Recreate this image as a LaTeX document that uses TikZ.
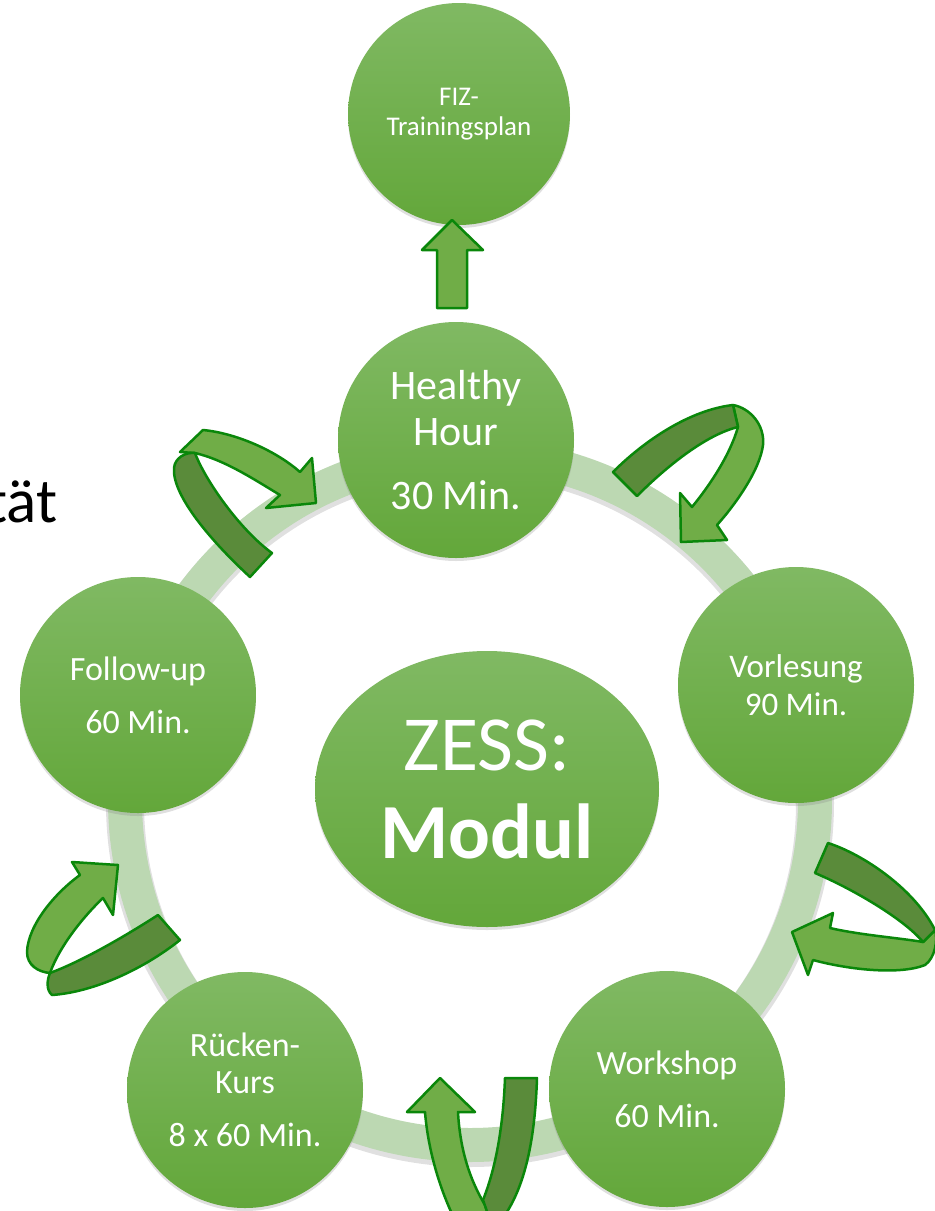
\documentclass[tikz,border=0pt]{standalone}
\usepackage{fontspec}
\setmainfont{Carlito}
\usepackage{tikz}
\usetikzlibrary{shapes.geometric}
\usetikzlibrary{shadows}
\definecolor{ringgreen}{HTML}{BCD8B2}
\definecolor{topgreen}{HTML}{80B963}
\definecolor{botgreen}{HTML}{63A73A}
\definecolor{arrowlight}{HTML}{70AD47}
\definecolor{arrowdark}{HTML}{5A8B3A}
\definecolor{arrowline}{HTML}{0A870A}
\tikzset{
 stage/.style={circle, minimum size=236pt, inner sep=0pt, text=white, align=center,
   top color=topgreen, bottom color=botgreen,
   drop shadow={opacity=0.25, shadow xshift=0pt, shadow yshift=-3pt}},
 turn light/.style={fill=arrowlight, draw=arrowline, line width=2.5pt, line join=round},
 turn dark/.style={fill=arrowdark, draw=arrowline, line width=2.5pt, line join=round},
 }

\begin{document}
\begin{tikzpicture}[x=1pt, y=-1pt]
        \useasboundingbox (0,0) rectangle (935,1211);

        % ring behind the stations
        \draw[black, opacity=0.12, line width=38pt] (470,803) circle[radius=345pt];
        \draw[ringgreen, line width=34pt] (470,800) circle[radius=345pt];

        \node[anchor=base east, font=\fontsize{63}{72}\selectfont] (word) at (61,522) {tät};

        % stations
        \node[stage, minimum size=222pt, font=\fontsize{27}{30}\selectfont] (fiz) at (459,114) {FIZ-\\Trainingsplan};
        \node[stage, font=\fontsize{42}{46}\selectfont] (hh) at (456,440) {Healthy\\Hour\\[18pt]30 Min.};
        \node[stage, font=\fontsize{33}{38}\selectfont] (vor) at (796,685) {Vorlesung\\90 Min.};
        \node[stage, font=\fontsize{34}{40}\selectfont] (work) at (667,1089) {Workshop\\[13pt]60 Min.};
        \node[stage, font=\fontsize{34}{37}\selectfont] (ruck) at (245,1090) {Rücken-\\Kurs\\[16pt]8 x 60 Min.};
        \node[stage, font=\fontsize{34}{40}\selectfont] (follow) at (138,695) {Follow-up\\[13pt]60 Min.};
        \node[stage, ellipse, minimum width=344pt, minimum height=276pt, font=\fontsize{78}{88}\selectfont] (zess) at (487,789) {ZESS:\\\textbf{Modul}};

        % arrow up to the training plan
        \draw[turn light] (437,308) -- (437,250) -- (422,250) -- (452,220) -- (483,250) -- (467,250) -- (467,308) -- cycle;

        % top left turn
        \draw[turn light] (203,430) .. controls (235,433) and (275,450) .. (300,472) -- (312,458) -- (316,503) -- (266,508) -- (280,495)
            .. controls (255,480) and (225,460) .. (195,453) -- (180,452) -- cycle;
        \draw[turn dark] (195,453) .. controls (205,480) and (240,530) .. (272,553) -- (250,577)
            .. controls (210,540) and (172,495) .. (174,468) .. controls (175,458) and (185,452) .. (195,453) -- cycle;

        % top right turn
        \draw[turn light] (733,405) .. controls (750,408) and (765,425) .. (763,445) .. controls (760,470) and (735,505) .. (717,525)
            -- (727,540) -- (681,542) -- (680,493) -- (692,507) .. controls (710,485) and (730,455) .. (738,427) -- cycle;
        \draw[turn dark] (613,472) .. controls (645,440) and (690,410) .. (733,405) -- (738,427)
            .. controls (705,435) and (665,468) .. (637,496) -- cycle;

        % right turn
        \draw[turn light] (923,942) .. controls (900,938) and (860,935) .. (830,928) -- (833,913) -- (792,932) -- (808,975) -- (813,960)
            .. controls (850,970) and (900,975) .. (925,965) .. controls (935,958) and (938,940) .. (935,930) -- cycle;
        \draw[turn dark] (828,843) .. controls (865,855) and (915,890) .. (935,930) -- (923,942)
            .. controls (905,920) and (855,890) .. (815,873) -- cycle;

        % bottom turn
        \draw[turn light] (425,1112) -- (407,1112) -- (440,1078) -- (475,1112) -- (458,1112)
            .. controls (460,1150) and (470,1180) .. (485,1205) -- (490,1220) -- (455,1220)
            .. controls (440,1190) and (428,1150) .. (425,1112) -- cycle;
        \draw[turn dark] (505,1078) -- (537,1078) .. controls (535,1140) and (525,1185) .. (505,1215) -- (490,1220) -- (483,1200)
            .. controls (495,1170) and (503,1130) .. (505,1078) -- cycle;

        % bottom left turn
        \draw[turn light] (50,973) .. controls (38,972) and (27,965) .. (27,952) .. controls (28,925) and (55,893) .. (80,875)
            -- (72,862) -- (118,865) -- (113,915) -- (103,898) .. controls (85,915) and (60,945) .. (50,973) -- cycle;
        \draw[turn dark] (158,915) -- (180,940) .. controls (145,968) and (95,992) .. (52,995)
            .. controls (46,990) and (47,980) .. (50,973) .. controls (85,960) and (130,933) .. (158,915) -- cycle;
    \end{tikzpicture}
\end{document}
